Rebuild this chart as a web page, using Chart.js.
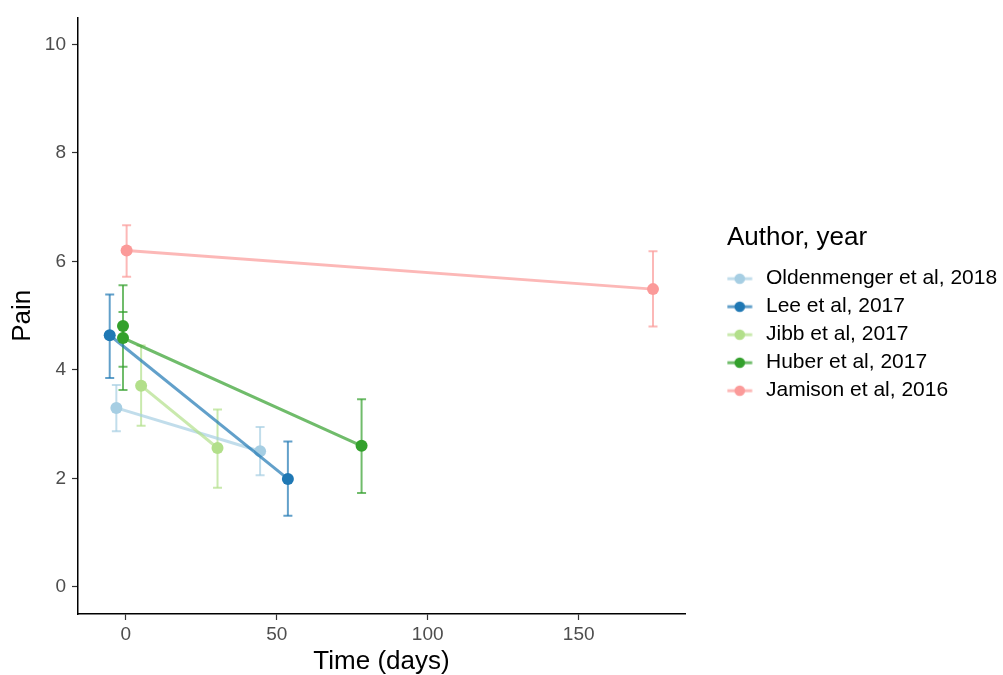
<!DOCTYPE html>
<html>
<head>
<meta charset="utf-8">
<script src="https://cdn.jsdelivr.net/npm/chart.js@4.4.1/dist/chart.umd.min.js"></script>
<style>
  html, body { margin: 0; padding: 0; background: #ffffff; }
  #wrap { width: 1003px; height: 675px; position: relative; }
</style>
</head>
<body>
<div id="wrap"><canvas id="c" width="1003" height="675"></canvas></div>
<script>
// ---- data ----
const studies = ["Oldenmenger et al, 2018", "Lee et al, 2017", "Jibb et al, 2017", "Huber et al, 2017", "Jamison et al, 2016"];
const studyColors = ["#A6CEE3", "#1F78B4", "#B2DF8A", "#33A02C", "#FB9A99"];

const oldenmengerTime = [-3.1, 44.5];
const oldenmengerPain = [3.30, 2.50];
const oldenmengerLow  = [2.87, 2.06];
const oldenmengerHigh = [3.72, 2.95];

const leeTime = [-5.3, 53.7];
const leePain = [4.64, 1.99];
const leeLow  = [3.85, 1.31];
const leeHigh = [5.39, 2.68];

const jibbTime = [5.1, 30.4];
const jibbPain = [3.71, 2.56];
const jibbLow  = [2.97, 1.83];
const jibbHigh = [4.45, 3.27];

const huberTime = [-0.9, -0.9, 78.1];
const huberPain = [4.81, 4.59, 2.60];
const huberLow  = [4.06, 3.63, 1.73];
const huberHigh = [5.56, 5.07, 3.46];

const jamisonTime = [0.3, 174.6];
const jamisonPain = [6.20, 5.49];
const jamisonLow  = [5.72, 4.80];
const jamisonHigh = [6.67, 6.19];

const xTickValues = [0, 50, 100, 150];
const yTickValues = [0, 2, 4, 6, 8, 10];

// ---- build datasets ----
const series = [
  [oldenmengerTime, oldenmengerPain, oldenmengerLow, oldenmengerHigh],
  [leeTime, leePain, leeLow, leeHigh],
  [jibbTime, jibbPain, jibbLow, jibbHigh],
  [huberTime, huberPain, huberLow, huberHigh],
  [jamisonTime, jamisonPain, jamisonLow, jamisonHigh]
];

function withAlpha(hex, a) {
  const r = parseInt(hex.slice(1, 3), 16), g = parseInt(hex.slice(3, 5), 16), b = parseInt(hex.slice(5, 7), 16);
  return `rgba(${r},${g},${b},${a})`;
}

const datasets = [];
series.forEach((s, i) => {
  const [t, p, lo, hi] = s;
  const errData = [];
  t.forEach((x, k) => {
    errData.push({x: x, y: lo[k]});
    errData.push({x: x, y: hi[k]});
    errData.push({x: x, y: null});
  });
  datasets.push({
    label: studies[i] + " (error)",
    data: errData,
    showLine: true,
    spanGaps: false,
    borderColor: withAlpha(studyColors[i], 0.7),
    borderWidth: 2,
    pointStyle: 'line',
    pointRadius: 4.5,
    pointHoverRadius: 4.5,
    pointBorderWidth: 2,
    pointBorderColor: withAlpha(studyColors[i], 0.7),
    order: 20 - i
  });
  datasets.push({
    label: studies[i],
    data: t.map((x, k) => ({x: x, y: p[k]})),
    showLine: true,
    borderColor: withAlpha(studyColors[i], 0.7),
    borderWidth: 3,
    pointRadius: 6,
    pointHoverRadius: 6,
    pointBackgroundColor: studyColors[i],
    pointBorderWidth: 0,
    order: 10 - i
  });
});

function legendKey(color) {
  const c = document.createElement('canvas');
  c.width = 36; c.height = 14;
  const g = c.getContext('2d');
  g.strokeStyle = withAlpha(color, 0.7);
  g.lineWidth = 3;
  g.beginPath(); g.moveTo(0.5, 7); g.lineTo(25.5, 7); g.stroke();
  g.fillStyle = color;
  g.beginPath(); g.arc(13, 7, 5.3, 0, Math.PI * 2); g.fill();
  return c;
}

Chart.defaults.font.family = "'Liberation Sans', Arial, sans-serif";

new Chart(document.getElementById('c'), {
  type: 'scatter',
  data: { datasets: datasets },
  options: {
    responsive: false,
    animation: false,
    events: [],
    layout: { padding: { top: 16, right: 6, bottom: 0, left: 0 } },
    scales: {
      x: {
        type: 'linear',
        min: -15.8,
        max: 185.2,
        afterBuildTicks: (axis) => { axis.ticks = xTickValues.map(v => ({value: v})); },
        afterFit: (scale) => { scale.height = 61; },
        grid: { display: true, drawOnChartArea: false, drawTicks: true, tickLength: 6, tickColor: '#333333', tickWidth: 1.2 },
        border: { display: true, color: '#000000', width: 1.5 },
        ticks: { color: '#4d4d4d', font: { size: 19 }, padding: 3 },
        title: { display: true, text: 'Time (days)', color: '#000000', font: { size: 26, lineHeight: 1 }, padding: { top: 0, bottom: 0 } }
      },
      y: {
        type: 'linear',
        min: -0.5,
        max: 10.5,
        afterBuildTicks: (axis) => { axis.ticks = yTickValues.map(v => ({value: v})); },
        afterFit: (scale) => { scale.width = 78; },
        grid: { display: true, drawOnChartArea: false, drawTicks: true, tickLength: 6, tickColor: '#333333', tickWidth: 1.2 },
        border: { display: true, color: '#000000', width: 1.5 },
        ticks: { color: '#4d4d4d', font: { size: 19 }, padding: 6 },
        title: { display: true, text: 'Pain', color: '#000000', font: { size: 26, lineHeight: 1 }, padding: { top: 10, bottom: 0 } }
      },
      spacer: {
        type: 'linear',
        position: 'right',
        display: true,
        afterFit: (scale) => { scale.width = 42; },
        grid: { display: false },
        border: { display: false },
        ticks: { display: false }
      }
    },
    plugins: {
      tooltip: { enabled: false },
      legend: {
        display: true,
        position: 'right',
        align: 'center',
        fullSize: false,
        maxWidth: 270,
        title: {
          display: true,
          text: 'Author, year',
          position: 'start',
          color: '#000000',
          font: { size: 26 },
          padding: { top: 1.4, bottom: 5.4 }
        },
        labels: {
          usePointStyle: true,
          pointStyleWidth: 21.5,
          boxHeight: 21,
          padding: 7,
          color: '#000000',
          font: { size: 21 },
          generateLabels: () => studies.map((name, i) => ({
            text: name,
            fillStyle: studyColors[i],
            strokeStyle: studyColors[i],
            lineWidth: 0,
            hidden: false,
            pointStyle: legendKey(studyColors[i]),
            datasetIndex: i * 2 + 1
          }))
        }
      }
    }
  }
});
</script>
</body>
</html>
